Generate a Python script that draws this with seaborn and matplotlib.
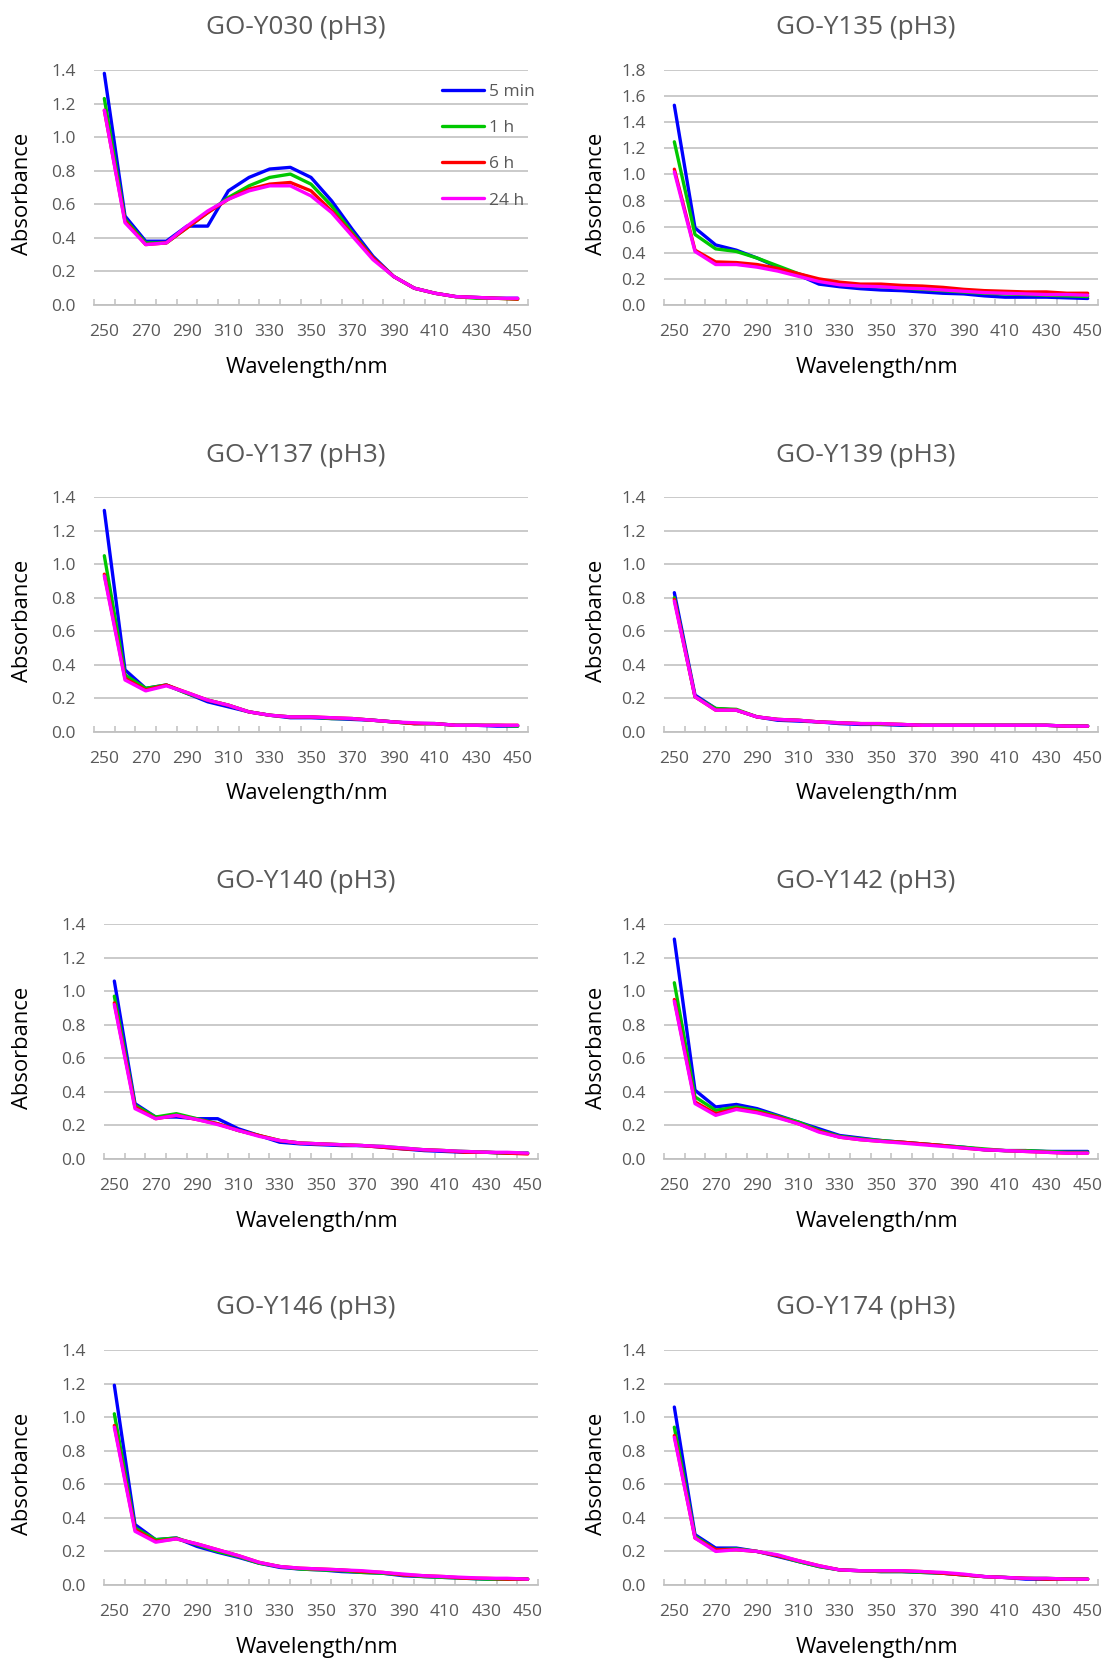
import pandas as pd
import matplotlib.pyplot as plt
import matplotlib.ticker as mticker
import seaborn as sns

sns.set_theme(style="white")
plt.rcParams['font.family'] = ['Open Sans', 'DejaVu Sans']

wavelengths = list(range(250, 451, 10))
times = ['5 min', '1 h', '6 h', '24 h']
colors = ['#0000FF', '#00C800', '#FF0000', '#FF00FF']

# GO-Y030
y030_5min = [1.38, 0.53, 0.38, 0.38, 0.47, 0.47, 0.68, 0.76, 0.81, 0.82, 0.76, 0.62, 0.45, 0.29, 0.17, 0.10, 0.07, 0.05, 0.045, 0.04, 0.04]
y030_1h = [1.23, 0.51, 0.37, 0.37, 0.46, 0.55, 0.64, 0.71, 0.76, 0.78, 0.72, 0.59, 0.43, 0.28, 0.17, 0.10, 0.07, 0.05, 0.04, 0.04, 0.035]
y030_6h = [1.16, 0.50, 0.36, 0.37, 0.46, 0.55, 0.63, 0.69, 0.72, 0.73, 0.68, 0.56, 0.42, 0.28, 0.17, 0.10, 0.07, 0.05, 0.045, 0.04, 0.035]
y030_24h = [1.16, 0.49, 0.36, 0.37, 0.47, 0.56, 0.63, 0.68, 0.71, 0.71, 0.65, 0.55, 0.41, 0.27, 0.17, 0.10, 0.07, 0.05, 0.045, 0.04, 0.04]

# GO-Y135
y135_5min = [1.53, 0.59, 0.46, 0.42, 0.36, 0.29, 0.23, 0.16, 0.14, 0.125, 0.115, 0.11, 0.10, 0.09, 0.085, 0.07, 0.06, 0.06, 0.06, 0.055, 0.05]
y135_1h = [1.25, 0.54, 0.43, 0.41, 0.36, 0.30, 0.24, 0.19, 0.16, 0.145, 0.14, 0.13, 0.12, 0.11, 0.10, 0.09, 0.085, 0.08, 0.075, 0.07, 0.065]
y135_6h = [1.04, 0.42, 0.33, 0.325, 0.31, 0.28, 0.24, 0.20, 0.175, 0.16, 0.16, 0.15, 0.145, 0.135, 0.12, 0.11, 0.105, 0.10, 0.10, 0.09, 0.09]
y135_24h = [1.02, 0.41, 0.31, 0.31, 0.29, 0.26, 0.22, 0.18, 0.155, 0.145, 0.14, 0.13, 0.125, 0.115, 0.105, 0.095, 0.09, 0.085, 0.08, 0.08, 0.075]

# GO-Y137
y137_5min = [1.32, 0.37, 0.26, 0.28, 0.23, 0.18, 0.15, 0.12, 0.10, 0.085, 0.085, 0.08, 0.075, 0.07, 0.06, 0.05, 0.05, 0.04, 0.04, 0.035, 0.035]
y137_1h = [1.05, 0.34, 0.26, 0.28, 0.23, 0.19, 0.16, 0.12, 0.10, 0.09, 0.09, 0.08, 0.08, 0.07, 0.06, 0.05, 0.05, 0.04, 0.04, 0.04, 0.035]
y137_6h = [0.94, 0.32, 0.25, 0.28, 0.235, 0.19, 0.16, 0.12, 0.10, 0.09, 0.09, 0.085, 0.08, 0.07, 0.06, 0.05, 0.05, 0.04, 0.04, 0.04, 0.04]
y137_24h = [0.93, 0.31, 0.245, 0.275, 0.235, 0.19, 0.16, 0.12, 0.10, 0.09, 0.09, 0.085, 0.08, 0.07, 0.06, 0.055, 0.05, 0.04, 0.04, 0.04, 0.04]

# GO-Y139
y139_5min = [0.83, 0.22, 0.14, 0.13, 0.09, 0.07, 0.065, 0.06, 0.05, 0.045, 0.045, 0.04, 0.04, 0.04, 0.04, 0.04, 0.04, 0.04, 0.04, 0.035, 0.035]
y139_1h = [0.80, 0.21, 0.14, 0.135, 0.09, 0.075, 0.07, 0.06, 0.055, 0.05, 0.045, 0.045, 0.04, 0.04, 0.04, 0.04, 0.04, 0.04, 0.04, 0.035, 0.035]
y139_6h = [0.79, 0.21, 0.13, 0.13, 0.09, 0.075, 0.07, 0.06, 0.055, 0.05, 0.05, 0.045, 0.04, 0.04, 0.04, 0.04, 0.04, 0.04, 0.04, 0.035, 0.035]
y139_24h = [0.78, 0.21, 0.13, 0.13, 0.09, 0.075, 0.07, 0.06, 0.055, 0.05, 0.05, 0.045, 0.04, 0.04, 0.04, 0.04, 0.04, 0.04, 0.04, 0.035, 0.035]

# GO-Y140
y140_5min = [1.06, 0.33, 0.25, 0.25, 0.24, 0.24, 0.18, 0.14, 0.10, 0.09, 0.085, 0.08, 0.08, 0.07, 0.06, 0.05, 0.045, 0.04, 0.04, 0.035, 0.035]
y140_1h = [0.97, 0.32, 0.25, 0.27, 0.24, 0.21, 0.17, 0.14, 0.11, 0.095, 0.09, 0.085, 0.08, 0.075, 0.065, 0.055, 0.05, 0.045, 0.04, 0.035, 0.035]
y140_6h = [0.93, 0.31, 0.24, 0.26, 0.235, 0.21, 0.17, 0.14, 0.11, 0.095, 0.09, 0.085, 0.08, 0.07, 0.06, 0.055, 0.05, 0.04, 0.04, 0.035, 0.03]
y140_24h = [0.92, 0.30, 0.24, 0.26, 0.235, 0.205, 0.17, 0.135, 0.11, 0.095, 0.09, 0.085, 0.08, 0.075, 0.065, 0.055, 0.05, 0.045, 0.04, 0.04, 0.035]

# GO-Y142
y142_5min = [1.31, 0.41, 0.31, 0.325, 0.30, 0.26, 0.22, 0.18, 0.14, 0.125, 0.11, 0.10, 0.09, 0.08, 0.07, 0.055, 0.05, 0.05, 0.045, 0.045, 0.045]
y142_1h = [1.05, 0.37, 0.29, 0.31, 0.29, 0.255, 0.22, 0.17, 0.135, 0.12, 0.11, 0.10, 0.09, 0.08, 0.07, 0.06, 0.05, 0.05, 0.045, 0.04, 0.04]
y142_6h = [0.95, 0.34, 0.27, 0.30, 0.28, 0.25, 0.21, 0.165, 0.13, 0.115, 0.105, 0.10, 0.09, 0.08, 0.065, 0.055, 0.05, 0.045, 0.04, 0.035, 0.035]
y142_24h = [0.94, 0.33, 0.26, 0.295, 0.275, 0.245, 0.21, 0.16, 0.13, 0.115, 0.105, 0.095, 0.085, 0.075, 0.065, 0.055, 0.05, 0.045, 0.04, 0.035, 0.035]

# GO-Y146
y146_5min = [1.19, 0.36, 0.27, 0.28, 0.23, 0.195, 0.165, 0.13, 0.105, 0.095, 0.09, 0.08, 0.075, 0.07, 0.055, 0.05, 0.045, 0.04, 0.035, 0.035, 0.035]
y146_1h = [1.02, 0.34, 0.27, 0.28, 0.24, 0.20, 0.17, 0.13, 0.11, 0.095, 0.09, 0.085, 0.075, 0.07, 0.06, 0.05, 0.045, 0.04, 0.035, 0.035, 0.035]
y146_6h = [0.95, 0.33, 0.26, 0.275, 0.245, 0.21, 0.175, 0.135, 0.11, 0.10, 0.095, 0.09, 0.08, 0.075, 0.06, 0.055, 0.05, 0.04, 0.04, 0.035, 0.035]
y146_24h = [0.94, 0.32, 0.255, 0.275, 0.245, 0.21, 0.175, 0.135, 0.11, 0.10, 0.095, 0.09, 0.085, 0.075, 0.065, 0.055, 0.05, 0.045, 0.04, 0.04, 0.035]

# GO-Y174
y174_5min = [1.06, 0.30, 0.22, 0.22, 0.20, 0.17, 0.14, 0.11, 0.09, 0.085, 0.08, 0.08, 0.075, 0.07, 0.06, 0.05, 0.045, 0.035, 0.035, 0.035, 0.035]
y174_1h = [0.94, 0.29, 0.21, 0.215, 0.20, 0.175, 0.14, 0.11, 0.09, 0.085, 0.08, 0.08, 0.075, 0.07, 0.06, 0.05, 0.045, 0.04, 0.04, 0.035, 0.035]
y174_6h = [0.89, 0.28, 0.21, 0.21, 0.20, 0.175, 0.145, 0.115, 0.09, 0.085, 0.085, 0.085, 0.08, 0.07, 0.06, 0.05, 0.045, 0.04, 0.035, 0.035, 0.035]
y174_24h = [0.88, 0.28, 0.20, 0.21, 0.20, 0.18, 0.145, 0.115, 0.09, 0.085, 0.085, 0.085, 0.08, 0.075, 0.065, 0.05, 0.045, 0.04, 0.04, 0.035, 0.035]

panels = [
    ('GO-Y030 (pH3)', [y030_5min, y030_1h, y030_6h, y030_24h], 1.4),
    ('GO-Y135 (pH3)', [y135_5min, y135_1h, y135_6h, y135_24h], 1.8),
    ('GO-Y137 (pH3)', [y137_5min, y137_1h, y137_6h, y137_24h], 1.4),
    ('GO-Y139 (pH3)', [y139_5min, y139_1h, y139_6h, y139_24h], 1.4),
    ('GO-Y140 (pH3)', [y140_5min, y140_1h, y140_6h, y140_24h], 1.4),
    ('GO-Y142 (pH3)', [y142_5min, y142_1h, y142_6h, y142_24h], 1.4),
    ('GO-Y146 (pH3)', [y146_5min, y146_1h, y146_6h, y146_24h], 1.4),
    ('GO-Y174 (pH3)', [y174_5min, y174_1h, y174_6h, y174_24h], 1.4),
]

# plot areas in pixels: left, top, right, bottom
boxes = [
    (94, 70, 528, 305), (664, 70, 1098, 305),
    (94, 497, 528, 732), (664, 497, 1098, 732),
    (104, 924, 538, 1159), (664, 924, 1098, 1159),
    (104, 1350, 538, 1585), (664, 1350, 1098, 1585),
]
ylabel_x = [23, 597, 23, 597, 23, 597, 23, 597]

W, H = 1107, 1659
fig = plt.figure(figsize=(W / 100, H / 100), dpi=100)
grey = '#595959'
palette = dict(zip(times, colors))

for i, (title, series, ymax) in enumerate(panels):
    l, t, r, b = boxes[i]
    ax = fig.add_axes([l / W, 1 - b / H, (r - l) / W, (b - t) / H])

    df = pd.DataFrame({
        'Wavelength': wavelengths * len(times),
        'Absorbance': [v for s in series for v in s],
        'Time': [tm for tm in times for _ in wavelengths],
    })
    sns.lineplot(data=df, x='Wavelength', y='Absorbance', hue='Time',
                 hue_order=times, palette=palette, linewidth=2.4,
                 legend=(i == 0), ax=ax)

    ax.set_xlim(245, 455)
    ax.set_ylim(0, ymax)
    ax.set_xticks(range(250, 451, 20))
    ax.xaxis.set_minor_locator(mticker.FixedLocator(list(range(245, 456, 10))))
    ax.yaxis.set_major_locator(mticker.MultipleLocator(0.2))
    ax.yaxis.set_major_formatter(mticker.FormatStrFormatter('%.1f'))
    ax.grid(axis='y', color='#c6c6c6', linewidth=1.3)
    ax.set_axisbelow(True)
    for s in ['left', 'top', 'right']:
        ax.spines[s].set_visible(False)
    ax.spines['bottom'].set_color('#c0c0c0')
    ax.spines['bottom'].set_linewidth(1.3)
    ax.tick_params(axis='x', which='major', length=0, pad=13.5, labelsize=12.5, labelcolor=grey)
    ax.tick_params(axis='x', which='minor', direction='in', length=4, width=1.1,
                   color='#c0c0c0', bottom=True)
    ax.tick_params(axis='y', length=0, pad=13, labelsize=12.5, labelcolor=grey)

    ax.set_xlabel('Wavelength/nm', fontsize=15.8, color='black', va='center')
    ax.set_ylabel('Absorbance', fontsize=15.8, color='black', va='center')
    ax.xaxis.set_label_coords(((l + r) / 2 - 4) / W, 1 - (b + 62) / H, transform=fig.transFigure)
    ax.yaxis.set_label_coords(ylabel_x[i] / W, 1 - ((t + b) / 2 + 6) / H, transform=fig.transFigure)

    ax.text(((l + r) / 2 - 15) / W, 1 - (t - 42) / H, title, transform=fig.transFigure,
            ha='center', va='center', fontsize=18.8, color=grey)

    if i == 0:
        handles, labels = ax.get_legend_handles_labels()
        ax.legend(handles, labels, loc='upper left', bbox_to_anchor=(442 / W, 1 - 84 / H),
                  bbox_transform=fig.transFigure, frameon=False, fontsize=12.5,
                  labelcolor=grey, handlelength=2.4, handletextpad=0.3,
                  labelspacing=1.15, borderpad=0, borderaxespad=0)

plt.savefig('out.png', dpi=100)
plt.close()
